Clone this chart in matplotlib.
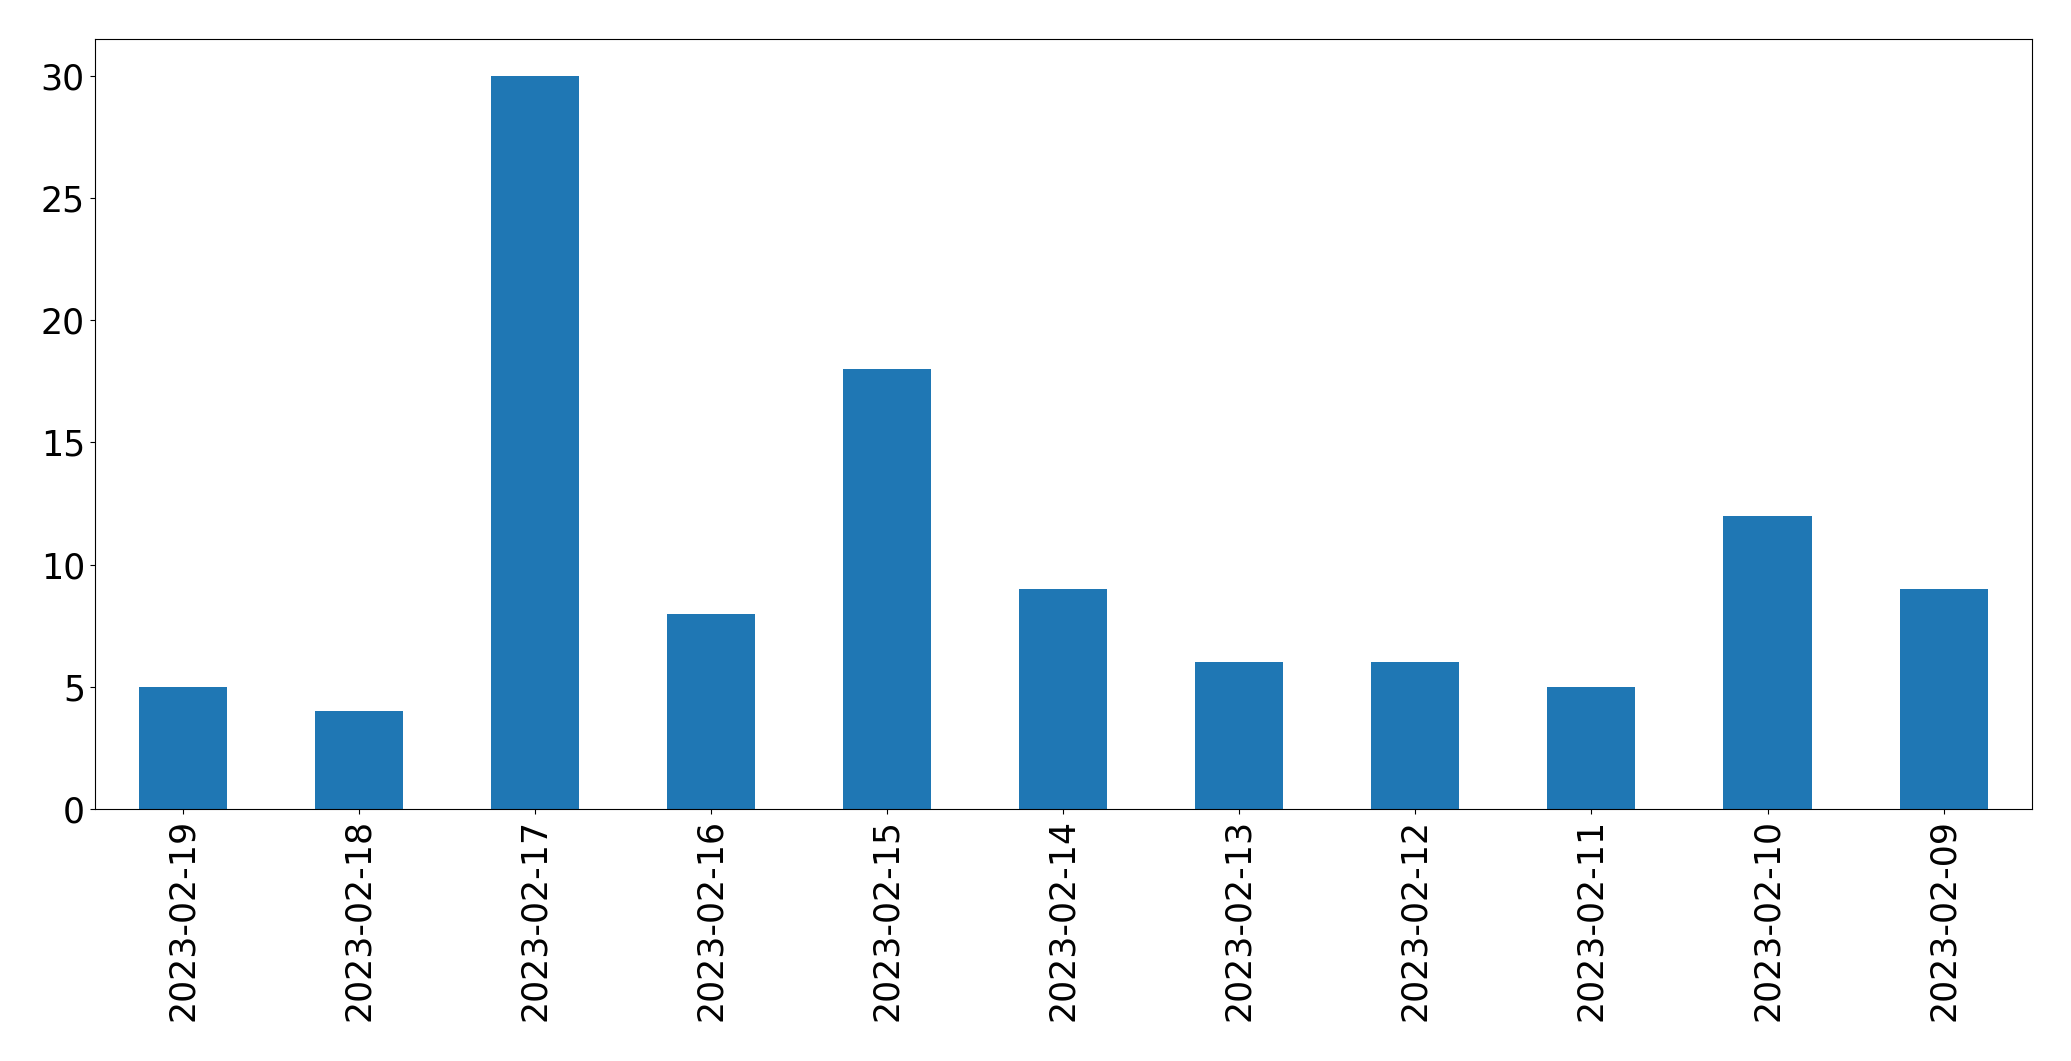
import matplotlib
matplotlib.use('Agg')
import matplotlib.pyplot as plt
import numpy as np

# Data
dates = ['2023-02-19', '2023-02-18', '2023-02-17', '2023-02-16', '2023-02-15',
         '2023-02-14', '2023-02-13', '2023-02-12', '2023-02-11', '2023-02-10',
         '2023-02-09']
counts = [5, 4, 30, 8, 18, 9, 6, 6, 5, 12, 9]


def main():
    fig = plt.figure(figsize=(20.71, 10.61), dpi=100)
    ax = fig.add_axes([0.0457, 0.2375, 0.9353, 0.7255])
    x = np.arange(len(dates))
    ax.bar(x, counts, width=0.5, color='#1f77b4')
    ax.set_xlim(-0.5, len(dates) - 0.5)
    ax.set_ylim(0, max(counts) * 1.05)
    ax.set_xticks(x)
    ax.set_xticklabels(dates, rotation=90)
    ax.tick_params(labelsize=25)
    fig.savefig('out.png', dpi=100)


if __name__ == "__main__":
    main()
